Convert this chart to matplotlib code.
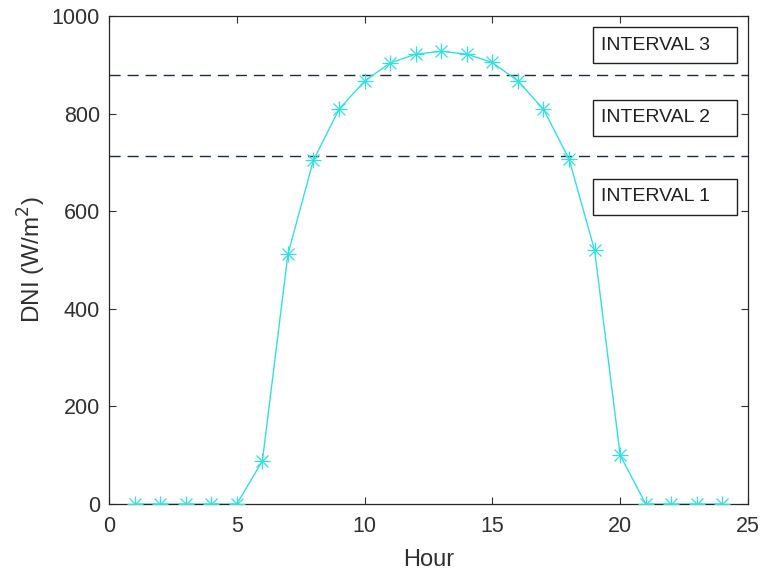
import matplotlib
matplotlib.use("Agg")
import matplotlib.pyplot as plt
from matplotlib.patches import Rectangle

hours = list(range(1, 25))
dni = [0, 0, 0, 0, 0, 88, 512, 705, 809, 867, 904, 922, 928, 922, 905, 867, 809, 707, 520, 100, 0, 0, 0, 0]
thresholds = [713, 880]
interval_labels = ["INTERVAL 1", "INTERVAL 2", "INTERVAL 3"]
interval_y = [630, 792, 940]

plt.rcParams['font.family'] = ['Liberation Sans', 'DejaVu Sans']
txt_color = '#303030'

fig = plt.figure(figsize=(7.64, 5.76), dpi=100)
ax = fig.add_axes([0.1427, 0.125, 0.8363, 0.847])

cyan = '#33e0e0'
ax.plot(hours, dni, color=cyan, linewidth=1.0, zorder=3)
ax.plot(hours, dni, linestyle='none', marker='+', markersize=11, markeredgewidth=0.9,
        color=cyan, zorder=3)
ax.plot(hours, dni, linestyle='none', marker='x', markersize=8, markeredgewidth=0.9,
        color=cyan, zorder=3)

for t in thresholds:
    ax.axhline(t, color='#1c2a45', linestyle=(0, (8, 5)), linewidth=1.0, zorder=2)

box_x0, box_x1 = 18.94, 24.57
box_half_h = 37
for lab, y in zip(interval_labels, interval_y):
    ax.add_patch(Rectangle((box_x0, y - box_half_h), box_x1 - box_x0, 2 * box_half_h,
                           facecolor='white', edgecolor='#202020', linewidth=1.0, zorder=4))
    ax.text(19.25, y, lab, fontsize=14, va='center', ha='left', color='#202020', zorder=5)

ax.set_xlim(0, 25)
ax.set_ylim(0, 1000)
ax.set_xticks([0, 5, 10, 15, 20, 25])
ax.set_yticks([0, 200, 400, 600, 800, 1000])
ax.tick_params(direction='in', top=True, right=True, labelsize=15.5, length=5, width=0.8,
               colors=txt_color)
ax.tick_params(axis='x', pad=9)
ax.tick_params(axis='y', pad=6.5)
for s in ax.spines.values():
    s.set_linewidth(0.9)
    s.set_color('#262626')
ax.set_xlabel('Hour', fontsize=17, color=txt_color, labelpad=8)
ax.set_ylabel('DNI (W/m$^2$)', fontsize=17.5, color=txt_color, labelpad=3)

fig.savefig('out.png', dpi=100)
